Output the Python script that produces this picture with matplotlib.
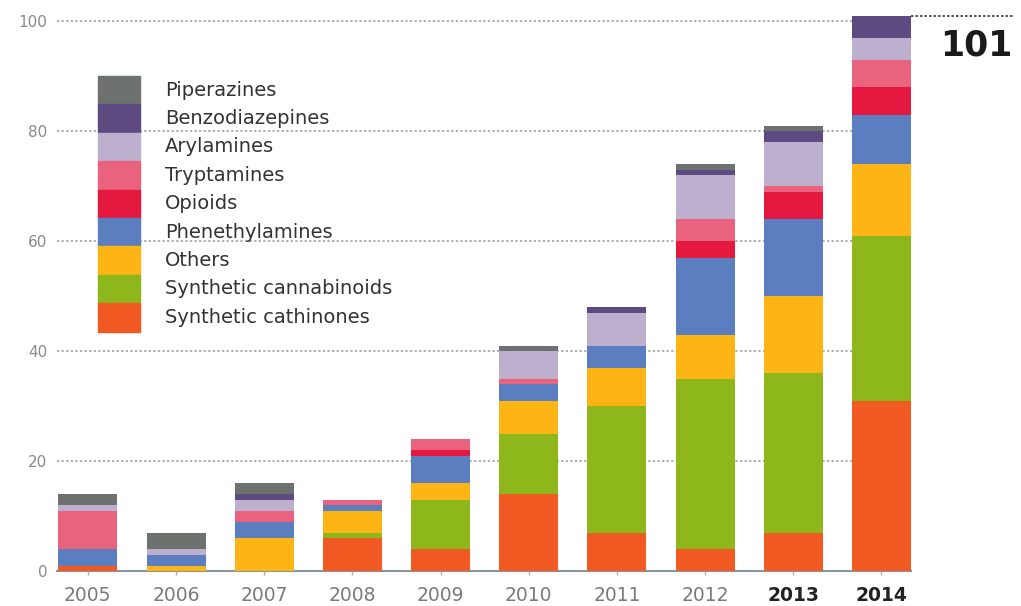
import matplotlib.pyplot as plt
import numpy as np

# data
years = ['2005', '2006', '2007', '2008', '2009', '2010', '2011', '2012', '2013', '2014']
categories = ['Synthetic cathinones', 'Synthetic cannabinoids', 'Others', 'Phenethylamines',
              'Opioids', 'Tryptamines', 'Arylamines', 'Benzodiazepines', 'Piperazines']
cathinones = [1, 0, 0, 6, 4, 14, 7, 4, 7, 31]
cannabinoids = [0, 0, 0, 1, 9, 11, 23, 31, 29, 30]
others = [0, 1, 6, 4, 3, 6, 7, 8, 14, 13]
phenethylamines = [3, 2, 3, 1, 5, 3, 4, 14, 14, 9]
opioids = [0, 0, 0, 0, 1, 0, 0, 3, 5, 5]
tryptamines = [7, 0, 2, 1, 2, 1, 0, 4, 1, 5]
arylamines = [1, 1, 2, 0, 0, 5, 6, 8, 8, 4]
benzodiazepines = [0, 0, 1, 0, 0, 0, 1, 1, 2, 4]
piperazines = [2, 3, 2, 0, 0, 1, 0, 1, 1, 0]
y_ticks = [0, 20, 40, 60, 80, 100]

colors = ['#F15A22', '#8DB71B', '#FDB515', '#5B7EC1', '#E5193F',
          '#E9637F', '#BCB0CE', '#5D4A80', '#6D726F']
series = [cathinones, cannabinoids, others, phenethylamines, opioids,
          tryptamines, arylamines, benzodiazepines, piperazines]

fig = plt.figure(figsize=(10.21, 6.06), dpi=100)
ax = fig.add_axes([57 / 1021, 1 - 571 / 606, (911 - 57) / 1021, 555.5 / 606])

x = np.arange(len(years))
bar_w = 0.67
bottom = np.zeros(len(years))
for vals, c in zip(series, colors):
    ax.bar(x, vals, bar_w, bottom=bottom, color=c, edgecolor='none', zorder=3)
    bottom += np.array(vals)

ax.set_xlim(-0.35, 9 + bar_w / 2)
ax.set_ylim(0, 101)

# dotted gridlines
for yv in y_ticks[1:]:
    ax.plot([-0.35, 9], [yv, yv], color='#9a9a9a', lw=1.1, ls=(0, (1.5, 1.5)), zorder=1)

# total marker for 2014
total = bottom[-1]
ax.plot([9 + bar_w / 2, 10.49], [total, total], color='#333333', lw=1.2,
        ls=(0, (1.5, 1.2)), clip_on=False, zorder=2)
ax.text(10.49, total - 2.3, '%d' % total, ha='right', va='top', fontsize=25,
        fontweight='bold', color='#1a1a1a')

for s in ['top', 'right', 'left']:
    ax.spines[s].set_visible(False)
ax.spines['bottom'].set_color('#8a949e')
ax.spines['bottom'].set_linewidth(1.5)

ax.set_yticks(y_ticks)
ax.set_yticklabels([str(v) for v in y_ticks], fontsize=11, color='#8a8a8a')
ax.tick_params(axis='y', length=0, pad=7)
ax.set_xticks(x)
ax.set_xticklabels(years, fontsize=13.5)
ax.tick_params(axis='x', length=3, width=1, color='#b0b0b0', pad=8)
for i, lab in enumerate(ax.get_xticklabels()):
    if i >= 8:
        lab.set_fontweight('bold')
        lab.set_color('#222222')
    else:
        lab.set_color('#7a7a7a')

# legend as stacked blocks
top_px = 76
blk_h = 28.4
for i, (name, c) in enumerate(zip(categories[::-1], colors[::-1])):
    y0 = top_px + i * blk_h
    rect = plt.Rectangle((98 / 1021, 1 - (y0 + blk_h) / 606), 42 / 1021, blk_h / 606,
                         transform=fig.transFigure, color=c, zorder=5)
    fig.patches.append(rect)
    fig.text(165 / 1021, 1 - (y0 + blk_h / 2) / 606, name, fontsize=14,
             color='#333333', va='center', ha='left')

fig.savefig('out.png', dpi=100, facecolor='white')
